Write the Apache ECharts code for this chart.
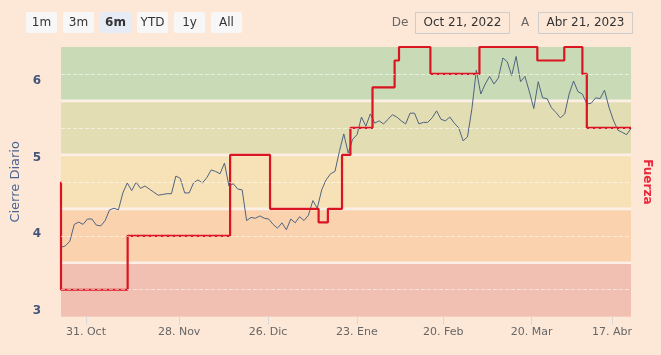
<!DOCTYPE html>
<html><head><meta charset="utf-8">
<script src="https://cdn.jsdelivr.net/npm/echarts@6/dist/echarts.min.js"></script>
<style>html,body{margin:0;padding:0;background:#fde8d8;} #chart{width:661px;height:355px;}</style>
</head><body><div id="chart"></div>
<script>
// Daily close (one point per trading day, Oct 21 2022 -> Apr 21 2023)
const closeValues = [
  3.83,3.85,3.91,4.13,4.16,4.13,4.20,4.20,4.12,4.11,
  4.18,4.32,4.34,4.32,4.54,4.67,4.57,4.68,4.60,4.63,
  4.59,4.55,4.51,4.52,4.53,4.53,4.76,4.73,4.54,4.54,
  4.67,4.71,4.67,4.74,4.84,4.82,4.79,4.93,4.63,4.66,
  4.59,
  4.58,4.18,4.22,4.21,4.24,4.21,4.20,4.13,4.08,4.15,
  4.06,4.20,4.15,4.23,4.18,4.25,4.44,4.34,4.58,4.71,
  4.79,4.82,5.08,5.31,5.06,5.24,5.30,5.53,5.41,5.57,
  5.45,5.48,5.44,5.50,5.56,5.53,
  5.48,5.44,5.58,5.58,5.44,5.46,5.46,5.52,5.61,5.50,
  5.48,5.53,5.45,5.39,5.22,5.27,5.64,6.14,5.83,5.96,
  6.06,5.96,6.04,6.30,6.25,6.07,6.32,5.99,6.06,5.86,
  5.64,5.99,5.78,5.77,5.65,5.59,5.52,5.57,5.83,6.00,
  5.86,5.83,5.70,5.71,5.78,5.77,5.88,5.66,5.49,5.36,
  5.33,5.30,5.38
];
// Fuerza (strength) step line: position (trading-day index) where each level starts
const strengthX = [0,0,15.08,38.27,47.31,58.3,60.4,63.6,65.5,70.5,75.5,76.5,83.6,94.7,107.8,113.9,118.0,119.0,129];
const strengthValues = [2.5,0.5,1.5,3.0,2.0,1.75,2.0,3.0,3.5,4.25,4.75,5.0,4.5,5.0,4.75,5.0,4.5,3.5,3.5];
// x-axis tick labels and their positions (trading-day index)
const tickPositions = [5.65,26.74,46.86,66.97,86.5,106.5,124.7];
const tickLabels = ['31. Oct','28. Nov','26. Dic','23. Ene','20. Feb','20. Mar','17. Abr'];
const priceTicks = [3,4,5,6];
// Strength bands (right axis)
const bandLimits = [[0,1],[1,2],[2,3],[3,4],[4,5]];
const bandColors = ['#f2c0b2','#fbd2ae','#f7e1b6','#e3ddb3','#c9dbb6'];
const gridLevels = [0.5,1.5,2.5,3.5,4.5];
// Range selector
const rangeButtons = ['1m','3m','6m','YTD','1y','All'];
const selectedRange = '6m';
const dateFrom = 'Oct 21, 2022';
const dateTo = 'Abr 21, 2023';

const FONT = '"DejaVu Sans", sans-serif';
const chart = echarts.init(document.getElementById('chart'));

const graphics = [];
rangeButtons.forEach((b, i) => {
  const sel = b === selectedRange;
  graphics.push({
    type: 'group', x: 26 + i * 37, y: 12,
    children: [
      {type: 'rect', shape: {x: 0, y: 0, width: 31, height: 21, r: 2},
       style: {fill: sel ? '#e6ebf5' : '#f7f7f7'}},
      {type: 'text', x: 15.5, y: 11,
       style: {text: b, align: 'center', verticalAlign: 'middle', fill: '#333333',
               font: (sel ? 'bold ' : '') + '12px ' + FONT}}
    ]
  });
});
graphics.push({type: 'text', x: 400, y: 23,
  style: {text: 'De', align: 'center', verticalAlign: 'middle', fill: '#666666', font: '12px ' + FONT}});
graphics.push({type: 'rect', shape: {x: 415.5, y: 12.5, width: 94, height: 21},
  style: {fill: 'none', stroke: '#cccccc', lineWidth: 1}});
graphics.push({type: 'text', x: 462.5, y: 23,
  style: {text: dateFrom, align: 'center', verticalAlign: 'middle', fill: '#333333', font: '12px ' + FONT}});
graphics.push({type: 'text', x: 525, y: 23,
  style: {text: 'A', align: 'center', verticalAlign: 'middle', fill: '#666666', font: '12px ' + FONT}});
graphics.push({type: 'rect', shape: {x: 538.5, y: 12.5, width: 94, height: 21},
  style: {fill: 'none', stroke: '#cccccc', lineWidth: 1}});
graphics.push({type: 'text', x: 585.5, y: 23,
  style: {text: dateTo, align: 'center', verticalAlign: 'middle', fill: '#333333', font: '12px ' + FONT}});

const gap = 0.025;
const option = {
  animation: false,
  backgroundColor: '#fde8d8',
  graphic: graphics,
  grid: {left: 61, right: 29.3, top: 47, bottom: 38.3, show: true,
         backgroundColor: '#fcf0e6', borderWidth: 0},
  xAxis: {
    type: 'value', min: 0, max: closeValues.length - 1,
    splitLine: {show: false},
    axisLine: {show: false},
    axisTick: {show: true, customValues: tickPositions, length: 8,
               lineStyle: {color: '#d8d8d8'}},
    axisLabel: {customValues: tickPositions, color: '#666666', fontSize: 11,
                fontFamily: FONT, margin: 10,
                formatter: v => {
                  let best = 0;
                  tickPositions.forEach((p, i) => { if (Math.abs(p - v) < Math.abs(tickPositions[best] - v)) best = i; });
                  return tickLabels[best];
                }}
  },
  yAxis: [
    {type: 'value', min: 2.926, max: 6.443, position: 'left',
     splitLine: {show: false}, axisLine: {show: false}, axisTick: {show: false},
     axisLabel: {customValues: priceTicks, color: '#44557a', fontSize: 12,
                 fontWeight: 'bold', fontFamily: FONT, margin: 20},
     name: 'Cierre Diario', nameLocation: 'middle', nameRotate: 90, nameGap: 37,
     nameTextStyle: {color: '#4a6695', fontSize: 13, fontFamily: FONT}},
    {type: 'value', min: 0, max: 5, position: 'right',
     splitLine: {show: false}, axisLine: {show: false}, axisTick: {show: false},
     axisLabel: {show: false},
     name: 'Fuerza', nameLocation: 'middle', nameRotate: -90, nameGap: 10,
     nameTextStyle: {color: '#e8283c', fontSize: 12, fontWeight: 'bold', fontFamily: FONT}}
  ],
  series: [
    {
      name: 'Bandas', type: 'line', yAxisIndex: 1, data: [[0, null]], silent: true,
      showSymbol: false, z: 1,
      markArea: {
        silent: true,
        data: bandLimits.map((b, i) => [
          {yAxis: b[0] === 0 ? 0 : b[0] + gap, itemStyle: {color: bandColors[i]}},
          {yAxis: b[1] === 5 ? 5 : b[1] - gap}
        ])
      },
      markLine: {
        silent: true, symbol: 'none', label: {show: false},
        lineStyle: {type: 'dashed', color: 'rgba(255,255,255,0.55)', width: 1},
        data: gridLevels.map(l => ({yAxis: l}))
      }
    },
    {
      name: 'Cierre Diario', type: 'line', yAxisIndex: 0, z: 3,
      data: closeValues.map((v, i) => [i, v]),
      showSymbol: false,
      lineStyle: {color: '#4f6480', width: 1}
    },
    {
      name: 'Fuerza', type: 'line', yAxisIndex: 1, z: 4, step: 'end', clip: false,
      data: strengthX.map((x, i) => [x, strengthValues[i]]),
      showSymbol: false,
      lineStyle: {color: '#da1420', width: 2.2}
    }
  ]
};
chart.setOption(option);
</script>
</body></html>
